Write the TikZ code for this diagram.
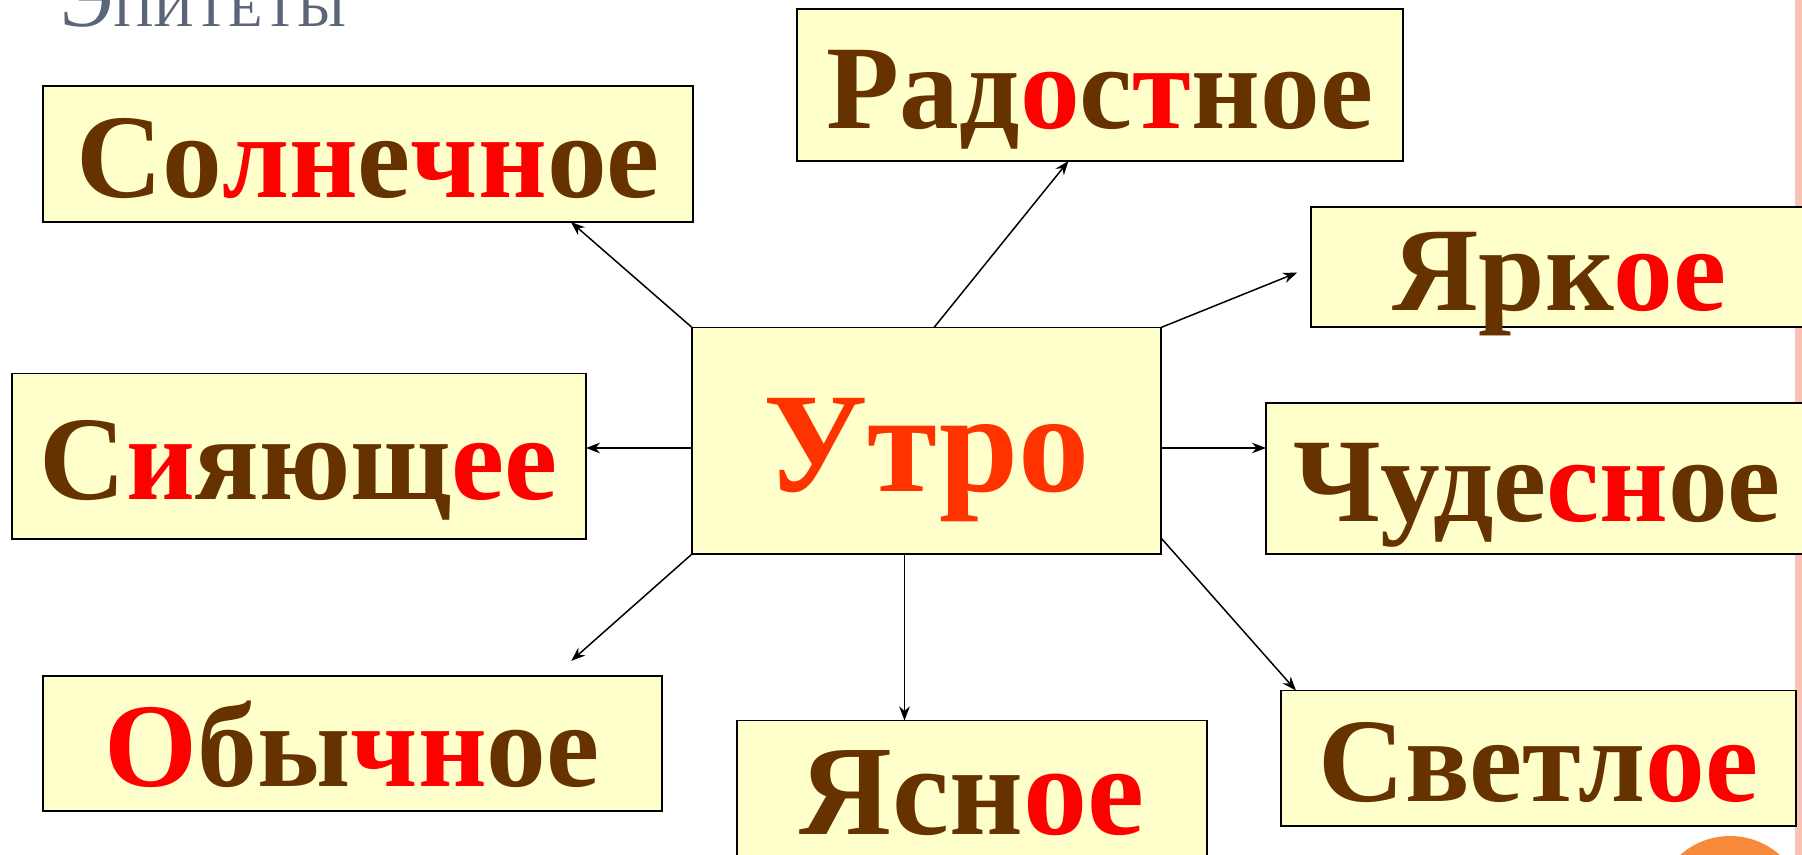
\documentclass[tikz,border=0pt]{standalone}
\usepackage{fontspec}
\setmainfont{Liberation Serif}
\usetikzlibrary{arrows.meta,calc}

\definecolor{wordbrown}{HTML}{663300}
\definecolor{wordred}{HTML}{FF0000}
\definecolor{morningred}{HTML}{FF3300}
\definecolor{boxfill}{HTML}{FFFFCC}
\definecolor{titlegray}{HTML}{5A6577}
\definecolor{edgepink}{HTML}{F9C3B3}
\definecolor{dotorange}{HTML}{F7893B}

\newcommand{\br}[1]{\textcolor{wordbrown}{#1}}
\newcommand{\rd}[1]{\textcolor{wordred}{#1}}

\begin{document}
\begin{tikzpicture}[x=0.02cm, y=-0.02cm,
  every node/.style={outer sep=0pt, inner sep=0pt},
  word/.style={draw=black, line width=1.1pt, fill=boxfill,
    font=\bfseries\fontsize{68}{68}\selectfont, text height=49pt, text depth=0pt},
  arr/.style={line width=0.85pt, -{Stealth[length=8pt, width=6pt]}}]

\useasboundingbox (0,0) rectangle (1802,855);
\fill[edgepink] (1795,0) rectangle (1802,855);
\fill[dotorange] (1730,911) circle (75);

\node[anchor=base west, text=titlegray] (title) at (60,27)
  {{\fontsize{46}{46}\selectfont Э}{\fontsize{32}{32}\selectfont ПИТЕТЫ}};

\node[word, minimum width=13.01cm, minimum height=2.72cm] (sunny) at (368,154)
  {\br{Со}\rd{лн}\br{е}\rd{чн}\br{ое}};
\node[word, minimum width=12.11cm, minimum height=3.04cm] (joyful) at (1100,85)
  {\br{Рад}\rd{о}\br{с}\rd{т}\br{ное}};
\node[word, minimum width=9.94cm, minimum height=2.41cm] (bright) at (1559.5,267)
  {\br{Ярк}\rd{ое}};
\node[word, minimum width=11.49cm, minimum height=3.31cm] (shining) at (298.75,456.25)
  {\br{С}\rd{и}\br{яющ}\rd{ее}};
\node[word, minimum width=10.84cm, minimum height=3.02cm] (wondrous) at (1537,478.5)
  {\br{Чуде}\rd{сн}\br{ое}};
\node[word, minimum width=12.39cm, minimum height=2.70cm] (ordinary) at (352.25,743.5)
  {\rd{О}\br{бы}\rd{чн}\br{ое}};
\node[word, minimum width=9.4cm, minimum height=2.88cm, font=\bfseries\fontsize{73}{73}\selectfont,
  text height=48pt] (clear) at (972,792.5)
  {\br{Ясн}\rd{ое}};
\node[word, minimum width=10.3cm, minimum height=2.71cm] (light) at (1538.5,758.25)
  {\br{Светл}\rd{ое}};

\node[word, minimum width=9.38cm, minimum height=4.53cm, font=\bfseries\fontsize{81}{81}\selectfont,
  text height=58pt, text=morningred] (morning) at (926.5,440.75) {Утро};

\coordinate (westport) at ($(morning.north west)!0.532!(morning.south west)$);
\coordinate (eastport) at ($(morning.north east)!0.532!(morning.south east)$);

\draw[arr] (morning.north west) -- ($(sunny.south west)!0.812!(sunny.south east)$);
\draw[arr] ($(morning.north west)!0.516!(morning.north east)$) -- ($(joyful.south west)!0.448!(joyful.south east)$);
\draw[arr, shorten >=8.5pt] (morning.north east) -- (bright.west);
\draw[arr] (westport) -- (westport -| shining.east);
\draw[arr] (eastport) -- (eastport -| wondrous.west);
\draw[arr, shorten >=13pt] (morning.south west) -- ($(ordinary.north west)!0.826!(ordinary.north east)$);
\draw[arr] (morning.-101) -- (morning.-101 |- clear.north);
\draw[arr] ($(morning.north east)!0.929!(morning.south east)$) -- ($(light.north west)!0.029!(light.north east)$);
\end{tikzpicture}
\end{document}
